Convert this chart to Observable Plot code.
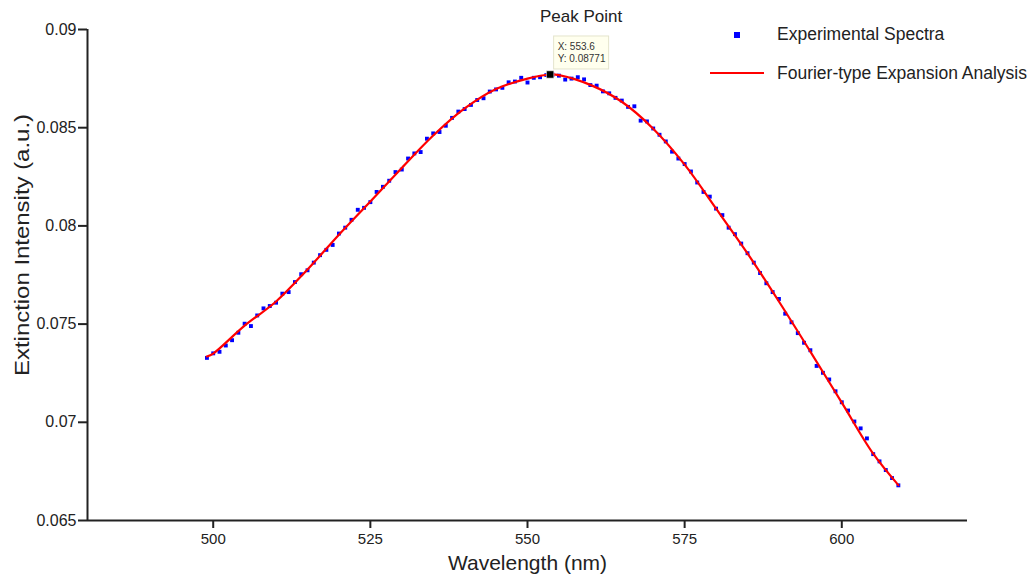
<!DOCTYPE html>
<html><head><meta charset="utf-8">
<script src="https://cdn.jsdelivr.net/npm/d3@7"></script>
<script src="https://cdn.jsdelivr.net/npm/@observablehq/plot@0.6"></script>
<style>
body{margin:0;background:#fff;font-family:"Liberation Sans",Arial,sans-serif}
#chart{position:relative;width:1029px;height:575px}
</style>
</head><body><div id="chart"></div>
<script>
// Experimental spectra (wavelength in nm, extinction intensity in a.u.)
const wavelength = [499,500,501,502,503,504,505,506,507,508,509,510,511,512,513,514,515,516,517,518,519,520,521,522,523,524,525,526,527,528,529,530,531,532,533,534,535,536,537,538,539,540,541,542,543,544,545,546,547,548,549,550,551,552,553,554,555,556,557,558,559,560,561,562,563,564,565,566,567,568,569,570,571,572,573,574,575,576,577,578,579,580,581,582,583,584,585,586,587,588,589,590,591,592,593,594,595,596,597,598,599,600,601,602,603,604,605,606,607,608,609];
const intensity = [0.07328,0.07351,0.07359,0.07391,0.07418,0.07456,0.07502,0.07490,0.07544,0.07580,0.07592,0.07609,0.07655,0.07663,0.07714,0.07754,0.07774,0.07813,0.07851,0.07878,0.07903,0.07961,0.07991,0.08031,0.08082,0.08092,0.08121,0.08173,0.08199,0.08230,0.08274,0.08287,0.08343,0.08369,0.08376,0.08444,0.08471,0.08478,0.08510,0.08550,0.08582,0.08595,0.08616,0.08641,0.08650,0.08684,0.08695,0.08703,0.08731,0.08735,0.08754,0.08730,0.08754,0.08757,0.08768,0.08770,0.08765,0.08745,0.08750,0.08757,0.08746,0.08717,0.08714,0.08685,0.08675,0.08652,0.08638,0.08606,0.08609,0.08536,0.08532,0.08496,0.08464,0.08430,0.08378,0.08343,0.08315,0.08277,0.08221,0.08173,0.08149,0.08088,0.08055,0.07991,0.07958,0.07910,0.07861,0.07813,0.07760,0.07708,0.07663,0.07628,0.07553,0.07509,0.07454,0.07405,0.07367,0.07287,0.07252,0.07218,0.07158,0.07102,0.07060,0.07004,0.06969,0.06918,0.06838,0.06801,0.06757,0.06716,0.06679];

// Fourier-type expansion fit
const fitWavelength = [499,500,505,510,515,520,525,530,535,540,545,550,553.6,555,560,565,570,575,580,585,590,595,600,605,609];
const fitIntensity = [0.07335,0.07350,0.07492,0.07615,0.07778,0.07955,0.08124,0.08295,0.08460,0.08598,0.08697,0.08750,0.08771,0.08768,0.08718,0.08632,0.08495,0.08312,0.08088,0.07860,0.07615,0.07360,0.07100,0.06840,0.06680];

// Peak annotation
const peakX = 553.6;
const peakY = 0.08771;
const peakLabel = "Peak Point";

const xTicks = [500, 525, 550, 575, 600];
const yTicks = [0.065, 0.07, 0.075, 0.08, 0.085, 0.09];
const xTitle = "Wavelength (nm)";
const yTitle = "Extinction Intensity (a.u.)";
const seriesNames = ["Experimental Spectra", "Fourier-type Expansion Analysis"];

const data = wavelength.map((w, i) => ({w, v: intensity[i]}));
const fit = fitWavelength.map((w, i) => ({w, v: fitIntensity[i]}));
const peak = [{w: peakX, v: peakY}];

const font = '"Liberation Sans", Arial, sans-serif';

const plot = Plot.plot({
  width: 1029,
  height: 575,
  marginLeft: 87,
  marginRight: 62,
  marginTop: 29,
  marginBottom: 55,
  style: {fontFamily: font, background: "#fff", color: "#222", overflow: "visible"},
  x: {domain: [480, 620]},
  y: {domain: [0.065, 0.09]},
  marks: [
    Plot.axisX({ticks: xTicks, tickSize: 8, tickPadding: 5, fontSize: 15, strokeWidth: 2, stroke: "#222", label: null}),
    Plot.axisY({ticks: yTicks, tickFormat: d3.format("~g"), tickSize: 9, tickPadding: 2, fontSize: 16, strokeWidth: 2, stroke: "#222", label: null}),
    Plot.ruleY([0.065], {stroke: "#222", strokeWidth: 2}),
    Plot.ruleX([480], {stroke: "#222", strokeWidth: 2}),
    Plot.text([xTitle], {frameAnchor: "bottom", dy: 49, fontSize: 21, fill: "#222"}),
    Plot.text([yTitle], {frameAnchor: "left", textAnchor: "middle", rotate: -90, dx: -65, dy: -30, fontSize: 21, fill: "#222", className: "ytitle"}),
    Plot.dot(data, {x: "w", y: "v", symbol: "square", r: 2.2, fill: "#0000ff", stroke: null}),
    Plot.line(fit, {x: "w", y: "v", curve: "catmull-rom", stroke: "#ff0000", strokeWidth: 2.2}),
    Plot.dot(peak, {x: "w", y: "v", symbol: "square", r: 4.2, fill: "#000", stroke: "#fff", strokeWidth: 0.6}),
    Plot.text(peak, {x: "w", y: "v", text: () => peakLabel, dx: 31, dy: -58, fontSize: 17, fill: "#222"})
  ]
});

document.getElementById("chart").appendChild(plot);

const svg = d3.select(plot);
// the reference's y title is stretched along its length
svg.selectAll(".ytitle text").attr("textLength", 262).attr("lengthAdjust", "spacingAndGlyphs");

// Data-tip box next to the peak point
const px = plot.scale("x").apply(peakX);
const py = plot.scale("y").apply(peakY);
const tip = svg.append("g").attr("transform", `translate(${px},${py})`)
  .style("font-family", font).attr("text-anchor", "start");
tip.append("rect").attr("x", 4).attr("y", -38).attr("width", 55).attr("height", 33)
  .attr("fill", "#ffffee").attr("stroke", "#e4e4cc").attr("stroke-width", 1);
tip.append("text").attr("x", 8).attr("y", -24).attr("font-size", 10).attr("fill", "#333").text(`X: ${peakX}`);
tip.append("text").attr("x", 8).attr("y", -12).attr("font-size", 10).attr("fill", "#333").text(`Y: ${peakY}`);

// Legend (top right, inside the frame)
const lg = svg.append("g").style("font-family", font).attr("text-anchor", "start");
lg.append("rect").attr("x", 734).attr("y", 32).attr("width", 6).attr("height", 6).attr("fill", "#0000ff");
lg.append("text").attr("x", 777).attr("y", 34).attr("dy", "0.35em").attr("font-size", 17.5).attr("fill", "#222").text(seriesNames[0]);
lg.append("line").attr("x1", 710).attr("x2", 764).attr("y1", 73).attr("y2", 73).attr("stroke", "#ff0000").attr("stroke-width", 2);
lg.append("text").attr("x", 777).attr("y", 73).attr("dy", "0.35em").attr("font-size", 17.5).attr("fill", "#222").text(seriesNames[1]);
</script>
</body></html>
